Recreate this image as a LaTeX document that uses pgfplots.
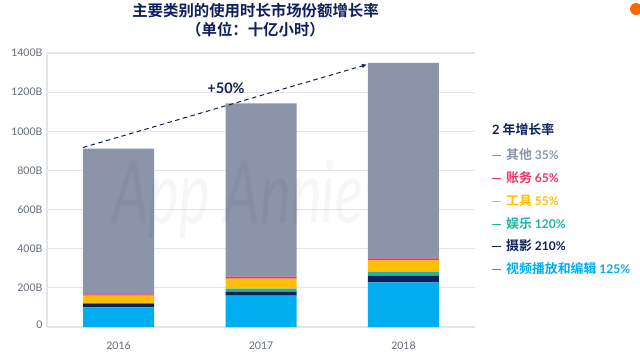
\documentclass[border=0pt]{standalone}
\usepackage{fontspec}
\usepackage{pgfplots}
\pgfplotsset{compat=1.18}
\usetikzlibrary{arrows.meta}
\setmainfont{Lato}
\newfontfamily\cjk{Noto Sans CJK SC}[BoldFont={Noto Sans CJK SC Bold}]
\definecolor{cother}{HTML}{8B94A8}
\definecolor{cfin}{HTML}{F0305F}
\definecolor{ctool}{HTML}{FFBF00}
\definecolor{cent}{HTML}{1FB5A0}
\definecolor{cphoto}{HTML}{0D1F5C}
\definecolor{cvideo}{HTML}{00AEEF}
\definecolor{cgrid}{HTML}{E4E5E8}
\definecolor{ctick}{HTML}{636B78}
\newcommand{\pct}[1]{{\rmfamily\bfseries\fontsize{12}{15}\selectfont #1\%}}
\newcommand{\legitem}[3]{\node[text=#1] at (492,#2) {\rule[3.6pt]{9pt}{1pt}\hspace{5pt}#3};}
\pgfplotstableread{
x video photo ent tool fin other
0 100 18 5 37 7 744
1 160 20 16 51 10 886
2 228 34 21 58 10 999
}\datatable
\begin{document}
\begin{tikzpicture}[x=1pt,y=1pt]
\path (0,0) rectangle (640,357);
\begin{axis}[
  at={(47pt,30pt)},anchor=south west,
  scale only axis,width=428pt,height=274pt,
  ymin=0,ymax=1400,xmin=-0.502,xmax=2.502,
  ybar stacked,bar width=71pt,
  axis y line*=left,axis x line*=bottom,
  axis line style={draw=cgrid,line width=1.2pt,-},
  ymajorgrids,grid style={cgrid,line width=1.2pt},
  ytick={0,200,...,1400},
  yticklabels={\raisebox{3.7pt}{0},\raisebox{0.4pt}{200B},\raisebox{0.6pt}{400B},\raisebox{-1pt}{600B},\raisebox{-1.7pt}{800B},\raisebox{-1.7pt}{1000B},\raisebox{-2pt}{1200B},\raisebox{-3pt}{1400B}},
  xtick={0,1,2},xticklabels={2016,2017,2018},
  major tick length=0pt,
  tick label style={font=\fontsize{10.5}{12}\selectfont,text=ctick},
  yticklabel style={xshift=-1pt},
  xticklabel style={yshift=-11pt},
  clip=false,
]
\addplot[fill=cvideo,draw=none] table[x=x,y=video]{\datatable};
\addplot[fill=cphoto,draw=none] table[x=x,y=photo]{\datatable};
\addplot[fill=cent,draw=none] table[x=x,y=ent]{\datatable};
\addplot[fill=ctool,draw=none] table[x=x,y=tool]{\datatable};
\addplot[fill=cfin,draw=none] table[x=x,y=fin]{\datatable};
\addplot[fill=cother,draw=none] table[x=x,y=other]{\datatable};
\end{axis}
\node[anchor=base west,inner sep=0pt,text=black,opacity=0.035,font=\itshape\fontsize{58}{60}\selectfont,yscale=1.5] at (112,134) {App Annie};
\draw[cphoto,line width=1pt,dash pattern=on 4.5pt off 3.5pt,-{Latex[length=5pt,width=4.5pt]}] (83,209.5) -- (367,292.5);
\node[text=cphoto,font=\bfseries\fontsize{14.5}{16}\selectfont] at (226,269) {+50\%};
\node[text=cphoto,align=center,font=\cjk\bfseries\fontsize{15.4}{18.5}\selectfont] at (255.5,337) {主要类别的使用时长市场份额增长率\\（单位：十亿小时）};
\begin{scope}[every node/.style={anchor=west,inner sep=0pt,font=\cjk\bfseries\fontsize{12.9}{15}\selectfont}]
\node[text=cphoto] at (492,227) {{\rmfamily\bfseries 2} 年增长率};
\legitem{cother}{202}{其他 \pct{35}}
\legitem{cfin}{179}{账务 \pct{65}}
\legitem{ctool}{156}{工具 \pct{55}}
\legitem{cent}{133.5}{娱乐 \pct{120}}
\legitem{cphoto}{111}{摄影 \pct{210}}
\legitem{cvideo}{88}{视频播放和编辑 \pct{125}}
\end{scope}
\begin{scope}
\clip (0,0) rectangle (640,357);
\fill[orange!80!red] (636,348) circle (6);
\end{scope}
\end{tikzpicture}
\end{document}
